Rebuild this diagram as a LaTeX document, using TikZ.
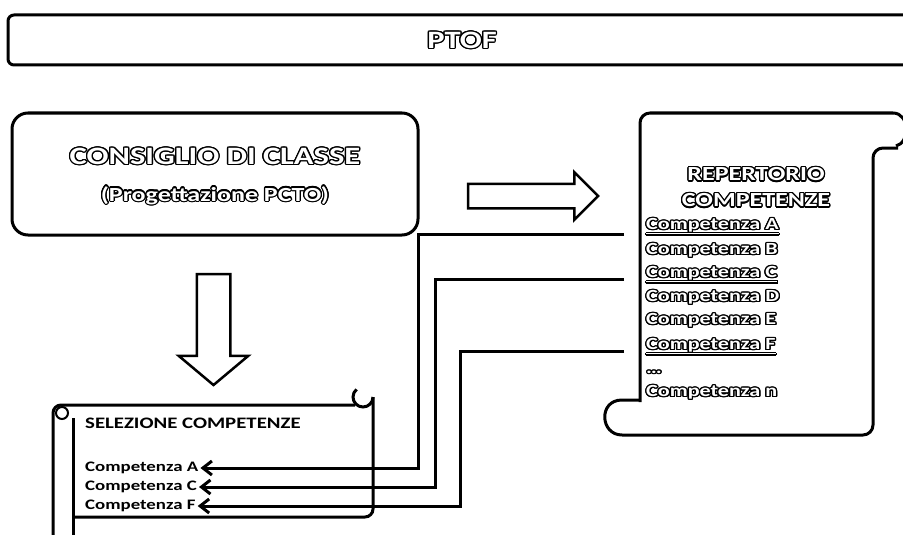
\documentclass[tikz,border=0pt]{standalone}
\usepackage{fontspec}
\setmainfont{Carlito}[FakeStretch=1.3]
\usepackage{contour}
\contourlength{1.3pt}
\usetikzlibrary{arrows.meta,shapes.arrows}

\newcommand{\fsz}[1]{\fontsize{#1pt}{#1pt}\selectfont}
\newcommand{\outl}[1]{\contour{black}{#1}}

\tikzset{
  frame/.style={line width=3},
  outtext/.style={text=white, inner sep=1, font=\bfseries\fsz{#1}},
  seltext/.style={anchor=west, inner sep=2, font=\bfseries\fsz{14.5}},
  reptext/.style={anchor=west, inner sep=1, text=white, font=\bfseries\fsz{17}},
  blockarrow/.style={draw, line width=2.5, fill=white, single arrow, minimum height=#1},
  link/.style={line width=3, -{Straight Barb[length=9,width=14]}},
}

\begin{document}
\begin{tikzpicture}[x=1pt,y=-1pt]
  \useasboundingbox (0,0) rectangle (903,535);

  % banner
  \draw[frame, rounded corners=6] (915,15) -- (8,15) -- (8,65) -- (915,65);
  \node[outtext=25] (ptof) at (462,41) {\outl{PTOF}};

  % consiglio di classe
  \node[draw, frame, rounded corners=16, minimum width=406, minimum height=122] (consiglio) at (215,174) {};
  \node[outtext=25] (cdc) at (215,157) {\outl{CONSIGLIO DI CLASSE}};
  \node[outtext=20] (prog) at (215,196) {\outl{(Progettazione PCTO)}};

  % block arrows
  \node[blockarrow=130, inner sep=11, single arrow head extend=11.5] (toright) at (527,196) {};
  \node[blockarrow=111, inner sep=15.5, single arrow head extend=18, single arrow tip angle=100, rotate=-90] (todown) at (213.5,322.5) {};

  % repertorio scroll
  \draw[frame, rounded corners=10] (898,148) -- (873,148) -- (873,435) -- (622,435);
  \draw[frame] (622,435) .. controls (600,435) and (598,400) .. (622,400) -- (640,400);
  \draw[frame, rounded corners=10] (640,402) -- (640,113) -- (893,113);
  \draw[frame] (893,113) .. controls (910,113) and (910,143) .. (896,146);
  \node[outtext=20] (rtitle1) at (756,175) {\outl{REPERTORIO}};
  \node[outtext=20] (rtitle2) at (756,201) {\outl{COMPETENZE}};
  \node[reptext] (repA) at (645,227) {\outl{\underline{Competenza A}}};
  \node[reptext] (repB) at (645,251) {\outl{Competenza B}};
  \node[reptext] (repC) at (645,275) {\outl{\underline{Competenza C}}};
  \node[reptext] (repD) at (645,298) {\outl{Competenza D}};
  \node[reptext] (repE) at (645,321) {\outl{Competenza E}};
  \node[reptext] (repF) at (645,347) {\outl{\underline{Competenza F}}};
  \node[reptext] (repdots) at (645,373) {\outl{\dots}};
  \node[reptext] (repN) at (645,393) {\outl{Competenza n}};

  % selezione scroll
  \draw[frame, rounded corners=8] (53,545) -- (53,405) -- (355,405);
  \draw[frame, rounded corners=8] (73,517) -- (373,517) -- (373,397);
  \draw[frame] (373,397) arc[start angle=0, end angle=230, radius=10];
  \draw[frame] (73,418) -- (73,545);
  \draw[line width=2] (62,413) circle (6);
  \node[seltext, font=\bfseries\fsz{16}] (seltitle) at (83,423) {SELEZIONE COMPETENZE};
  \node[seltext] (selA) at (83,468) {Competenza A};
  \node[seltext] (selC) at (83,487) {Competenza C};
  \node[seltext] (selF) at (83,506) {Competenza F};

  % links
  \draw[link] (repA.west) ++(-21,7) -- ++(-206,0) |- (selA.east);
  \draw[link] (repC.west) ++(-21,4) -- ++(-189,0) |- (selC.east);
  \draw[link] (repF.west) ++(-21,4) -- ++(-164,0) |- (selF.east);
\end{tikzpicture}
\end{document}
